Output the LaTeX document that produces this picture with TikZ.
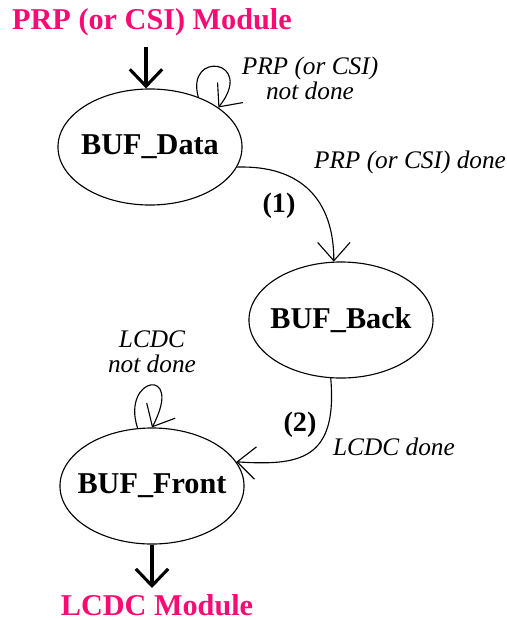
\documentclass[tikz,border=0pt]{standalone}
\usepackage{fontspec}
\setmainfont{Liberation Serif}
\usepackage{xcolor}
\usetikzlibrary{positioning, calc, arrows.meta, shapes.geometric}

\definecolor{modpink}{RGB}{250,10,115}

\begin{document}
\begin{tikzpicture}[
    x=0.025cm, y=-0.025cm,
    state/.style={
        ellipse,
        draw,
        line width=0.8pt,
        minimum width=4.6cm,
        minimum height=2.9cm,
        inner xsep=-12pt,
        inner ysep=0pt,
        font=\fontsize{21.5}{24}\selectfont\bfseries
    },
    module/.style={
        text=modpink,
        inner sep=0pt,
        font=\fontsize{21.5}{24}\selectfont\bfseries
    },
    cond/.style={
        align=center,
        font=\fontsize{18}{21}\selectfont\itshape
    },
    num/.style={
        font=\fontsize{20}{22}\selectfont\bfseries
    },
    trans/.style={
        -{Straight Barb[length=13pt,width=23pt]},
        line width=0.8pt
    },
    io/.style={
        -{Straight Barb[length=12pt,width=23pt]},
        line width=2.2pt
    }
]
\useasboundingbox (0,0) rectangle (507,620);

% Etats
\node[state] (data) at (150,147) {BUF\_Data};
\node[state] (back) at (341,320) {BUF\_Back};
\node[state] (front) at (152,486) {BUF\_Front};

% Modules
\node[module] (prp) at (152,22) {PRP (or CSI) Module};
\node[module] (lcdc) at (157,605) {LCDC Module};
\coordinate (prpend) at (146,47);
\coordinate (lcdcend) at (152,588);

% Conditions
\node[cond] (prpwait) at (310,78) {PRP (or CSI)\\[-3pt]not done};
\node[cond] (prpdone) at (410,162) {PRP (or CSI) done};
\node[cond] (lcdcwait) at (152,352) {LCDC\\[-3pt]not done};
\node[cond] (lcdcdone) at (394,447) {LCDC done};
\node[num] (one) at (279,206) {(1)};
\node[num] (two) at (300,425) {(2)};


% PRP -> BUF_Data
\draw[io]
    (prpend) -- (data.north -| prpend);


% BUF_Data -> BUF_Data : not done
\draw[trans]
    (data.46) .. controls +(-13,-47) and +(38,-48) .. (data.30);


% BUF_Data -> BUF_Back : (1)
\draw[trans]
    (data.-13) .. controls +(64,-2) and +(0,-62) .. (back.97);


% BUF_Back -> BUF_Front : (2)
\draw[trans]
    (back.-100) .. controls +(7,82) and +(63,4) .. (front.16);


% BUF_Front -> BUF_Front : not done
\draw[trans]
    (front.104) .. controls +(-17,-52) and +(33,-62) .. (front.north);


% BUF_Front -> LCDC
\draw[io]
    (front.south) -- (lcdcend);

\end{tikzpicture}
\end{document}
